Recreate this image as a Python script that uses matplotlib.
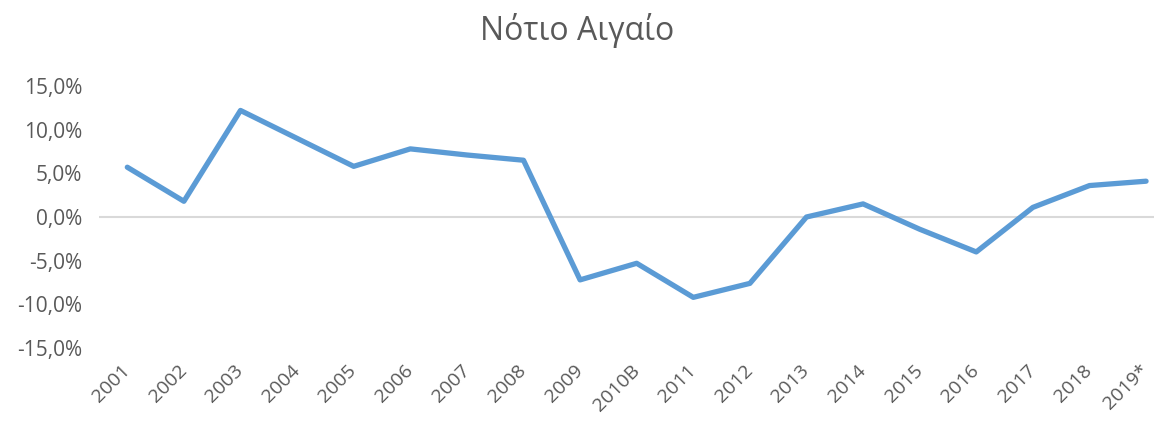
import matplotlib
matplotlib.use("Agg")
import matplotlib.pyplot as plt
from matplotlib.ticker import FuncFormatter

years = ["2001", "2002", "2003", "2004", "2005", "2006", "2007", "2008", "2009", "2010B",
         "2011", "2012", "2013", "2014", "2015", "2016", "2017", "2018", "2019*"]
growth = [5.7, 1.8, 12.2, 9.0, 5.8, 7.8, 7.1, 6.5, -7.2, -5.3,
          -9.2, -7.6, 0.0, 1.5, -1.4, -4.0, 1.1, 3.6, 4.1]

plt.rcParams['font.family'] = ['Open Sans', 'DejaVu Sans']

fig = plt.figure(figsize=(11.54, 4.23), dpi=100)
ax = fig.add_axes([99/1154, 75/423, 1055/1154, 262/423])

x = range(len(years))
ax.axhline(0, color="#D9D9D9", linewidth=1.5, zorder=1)
ax.plot(x, growth, color="#5B9BD5", linewidth=3.8, solid_joinstyle="round",
        solid_capstyle="round", zorder=3)

ax.set_xlim(-0.5, 18.14)
ax.set_ylim(-15, 15)
ax.set_yticks([-15, -10, -5, 0, 5, 10, 15])
ax.yaxis.set_major_formatter(FuncFormatter(lambda v, p: ("%.1f%%" % v).replace(".", ",")))
ax.set_xticks(list(x))
ax.set_xticklabels(years, rotation=45, ha="right", va="center", rotation_mode="anchor")

for s in ax.spines.values():
    s.set_visible(False)
ax.tick_params(axis="both", length=0, labelsize=14, colors="#595959")
ax.tick_params(axis="y", labelsize=15, pad=12)
ax.tick_params(axis="x", pad=14)

fig.text(0.5, 0.928, "Νότιο Αιγαίο", ha="center", va="center", fontsize=23, color="#595959")

fig.savefig("out.png", dpi=100)
